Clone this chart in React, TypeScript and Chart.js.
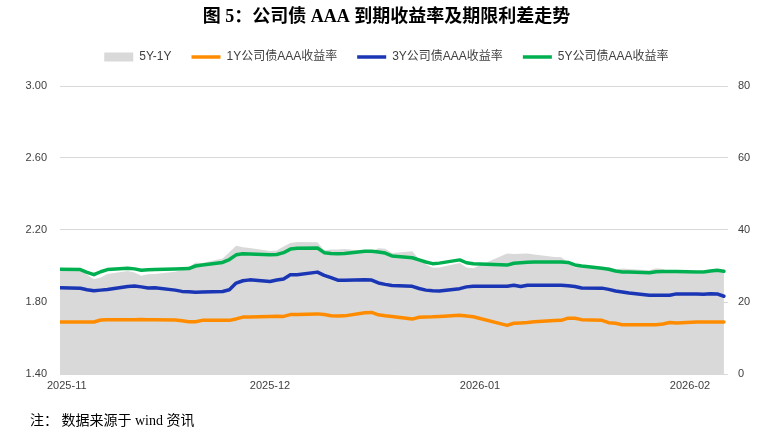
import { useEffect, useRef } from 'react';
import { Chart, registerables } from 'chart.js';

Chart.register(...registerables);

const dates = [
  '2025-10-31',
  '2025-11-03', '2025-11-04', '2025-11-05', '2025-11-06', '2025-11-07',
  '2025-11-10', '2025-11-11', '2025-11-12', '2025-11-13', '2025-11-14',
  '2025-11-17', '2025-11-18', '2025-11-19', '2025-11-20', '2025-11-21',
  '2025-11-24', '2025-11-25', '2025-11-26', '2025-11-27', '2025-11-28',
  '2025-12-01', '2025-12-02', '2025-12-03', '2025-12-04', '2025-12-05',
  '2025-12-08', '2025-12-09', '2025-12-10', '2025-12-11', '2025-12-12',
  '2025-12-15', '2025-12-16', '2025-12-17', '2025-12-18', '2025-12-19',
  '2025-12-22', '2025-12-23', '2025-12-24', '2025-12-25', '2025-12-26',
  '2025-12-29', '2025-12-30', '2025-12-31',
  '2026-01-05', '2026-01-06', '2026-01-07', '2026-01-08', '2026-01-09',
  '2026-01-12', '2026-01-13', '2026-01-14', '2026-01-15', '2026-01-16',
  '2026-01-19', '2026-01-20', '2026-01-21', '2026-01-22', '2026-01-23',
  '2026-01-26', '2026-01-27', '2026-01-28', '2026-01-29', '2026-01-30',
  '2026-02-02', '2026-02-03', '2026-02-04', '2026-02-05', '2026-02-06',
];

const yield1Y = [
  1.689,
  1.689, 1.689, 1.689, 1.700, 1.702,
  1.702, 1.702, 1.703, 1.702, 1.702,
  1.700, 1.696, 1.690, 1.690, 1.698,
  1.699, 1.698, 1.706, 1.716, 1.717,
  1.720, 1.721, 1.720, 1.730, 1.731,
  1.734, 1.730, 1.724, 1.722, 1.723,
  1.740, 1.742, 1.729, 1.724, 1.720,
  1.705, 1.715, 1.717, 1.718, 1.720,
  1.726, 1.722, 1.718,
  1.670, 1.682, 1.684, 1.686, 1.690,
  1.697, 1.698, 1.710, 1.710, 1.702,
  1.698, 1.685, 1.682, 1.674, 1.674,
  1.674, 1.674, 1.678, 1.686, 1.684,
  1.689, 1.689, 1.689, 1.689, 1.689,
];

const yield3Y = [
  1.879,
  1.876, 1.868, 1.862, 1.866, 1.870,
  1.886, 1.889, 1.884, 1.878, 1.879,
  1.866, 1.859, 1.857, 1.854, 1.855,
  1.858, 1.868, 1.905, 1.918, 1.923,
  1.914, 1.922, 1.928, 1.951, 1.952,
  1.966, 1.948, 1.935, 1.921, 1.921,
  1.924, 1.922, 1.906, 1.898, 1.892,
  1.887, 1.875, 1.866, 1.862, 1.861,
  1.874, 1.884, 1.888,
  1.888, 1.893, 1.886, 1.893, 1.893,
  1.893, 1.893, 1.890, 1.886, 1.878,
  1.877, 1.870, 1.861, 1.856, 1.850,
  1.838, 1.838, 1.838, 1.838, 1.845,
  1.845, 1.843, 1.846, 1.845, 1.832,
];

const yield5Y = [
  1.982,
  1.980, 1.965, 1.952, 1.968, 1.980,
  1.988, 1.984, 1.976, 1.979, 1.980,
  1.984, 1.985, 1.986, 2.000, 2.006,
  2.020, 2.036, 2.062, 2.068, 2.067,
  2.062, 2.064, 2.074, 2.094, 2.098,
  2.100, 2.074, 2.070, 2.068, 2.070,
  2.082, 2.082, 2.078, 2.072, 2.056,
  2.046, 2.034, 2.022, 2.013, 2.016,
  2.034, 2.018, 2.012,
  2.005, 2.015, 2.018, 2.021, 2.022,
  2.022, 2.022, 2.020, 2.006, 2.000,
  1.988, 1.982, 1.972, 1.967, 1.966,
  1.962, 1.968, 1.970, 1.970, 1.969,
  1.967, 1.967, 1.972, 1.976, 1.971,
];

const monthTickDates = ['2025-11-01', '2025-12-01', '2026-01-01', '2026-02-01'];
const monthTickLabels = ['2025-11', '2025-12', '2026-01', '2026-02'];

const seriesLabels = ['5Y-1Y', '1Y公司债AAA收益率', '3Y公司债AAA收益率', '5Y公司债AAA收益率'];
const leftTicks = { min: 1.4, max: 3.0, step: 0.4 };
const rightTicks = { min: 0, max: 80, step: 20 };

const TITLE = '图 5：公司债 AAA 到期收益率及期限利差走势';
const NOTE = '注： 数据来源于 wind 资讯';

const baseUTC = Date.UTC(2025, 9, 31);
function dayIndex(s: string): number {
  const [y, m, d] = s.split('-').map(Number);
  return (Date.UTC(y, m - 1, d) - baseUTC) / 86400000;
}

const SANS = "'Liberation Sans', 'Noto Sans CJK SC', sans-serif";
const SERIF = "'Liberation Serif', 'Noto Sans CJK SC', serif";

const legendGap = {
  id: 'legendGap',
  beforeInit(chart: any) {
    const legend = chart.legend;
    if (!legend) return;
    const orig = legend.fit;
    legend.fit = function fit() {
      orig.bind(legend)();
      this.height += 13;
    };
  },
};

export default function App() {
  const ref = useRef<HTMLCanvasElement | null>(null);

  useEffect(() => {
    if (!ref.current) return;
    const xs = dates.map(dayIndex);
    const spread = yield5Y.map((v, i) => Math.round((v - yield1Y[i]) * 1000) / 10);
    const pts = (arr: number[]) => arr.map((v, i) => ({ x: xs[i], y: v }));

    const lineCommon = {
      type: 'line' as const,
      pointRadius: 0,
      pointHoverRadius: 0,
      pointStyle: 'line',
      borderWidth: 3.5,
      tension: 0,
      fill: false,
      yAxisID: 'y',
      borderCapStyle: 'round' as const,
      borderJoinStyle: 'round' as const,
    };

    const chart = new Chart(ref.current, {
      type: 'line',
      data: {
        datasets: [
          {
            type: 'line',
            label: seriesLabels[0],
            data: pts(spread),
            yAxisID: 'y1',
            fill: 'origin',
            backgroundColor: '#d9d9d9',
            borderColor: '#d9d9d9',
            borderWidth: 0,
            pointRadius: 0,
            pointStyle: 'rect',
            tension: 0,
          },
          { ...lineCommon, label: seriesLabels[1], data: pts(yield1Y), borderColor: '#ff8c00', backgroundColor: '#ff8c00' },
          { ...lineCommon, label: seriesLabels[2], data: pts(yield3Y), borderColor: '#1a36b4', backgroundColor: '#1a36b4' },
          { ...lineCommon, label: seriesLabels[3], data: pts(yield5Y), borderColor: '#00b050', backgroundColor: '#00b050' },
        ] as any,
      },
      options: {
        animation: false,
        responsive: false,
        maintainAspectRatio: false,
        parsing: false as any,
        normalized: true,
        layout: { padding: { left: 12.6, right: 18.8, top: 0, bottom: 38.8 } },
        plugins: {
          filler: { drawTime: 'beforeDatasetsDraw' } as any,
          tooltip: { enabled: false },
          title: {
            display: true,
            text: TITLE,
            color: '#000',
            font: { size: 18, weight: 'bold', family: SERIF, lineHeight: 1.2 },
            padding: { top: 6.2, bottom: 3.2 },
          },
          legend: {
            display: true,
            position: 'top',
            labels: {
              usePointStyle: true,
              pointStyleWidth: 29,
              boxHeight: 9,
              padding: 20,
              color: '#404040',
              font: { size: 12, family: SANS },
              sort: (a: any, b: any) => a.datasetIndex - b.datasetIndex,
            },
          },
        },
        scales: {
          x: {
            type: 'linear',
            min: 0,
            max: 98.6,
            grid: { display: false, drawTicks: false },
            border: { display: false },
            afterBuildTicks: (axis: any) => {
              axis.ticks = monthTickDates.map((d) => ({ value: dayIndex(d) }));
            },
            ticks: {
              autoSkip: false,
              maxRotation: 0,
              padding: 5,
              color: '#404040',
              font: { size: 11, family: SANS },
              callback: (_v: any, i: number) => monthTickLabels[i],
            },
          },
          y: {
            type: 'linear',
            position: 'left',
            min: leftTicks.min,
            max: leftTicks.max,
            grid: { color: '#d9d9d9', lineWidth: 1, drawTicks: false },
            border: { display: false },
            ticks: {
              stepSize: leftTicks.step,
              padding: 13,
              color: '#404040',
              font: { size: 11, family: SANS },
              callback: (v: any) => Number(v).toFixed(2),
            },
          },
          y1: {
            type: 'linear',
            position: 'right',
            min: rightTicks.min,
            max: rightTicks.max,
            grid: { display: false, drawTicks: false },
            border: { display: false },
            ticks: {
              stepSize: rightTicks.step,
              padding: 10,
              color: '#404040',
              font: { size: 11, family: SANS },
            },
          },
        },
      } as any,
      plugins: [legendGap],
    });

    return () => chart.destroy();
  }, []);

  return (
    <div style={{ position: 'absolute', left: 0, top: 0, width: 779, height: 436, background: '#fff' }}>
      <canvas ref={ref} width={779} height={436} style={{ width: 779, height: 436, display: 'block' }} />
      <div
        style={{
          position: 'absolute',
          left: 30,
          top: 412,
          fontFamily: SERIF,
          fontSize: 14,
          lineHeight: '18px',
          color: '#000',
          whiteSpace: 'pre',
        }}
      >
        {NOTE}
      </div>
    </div>
  );
}
